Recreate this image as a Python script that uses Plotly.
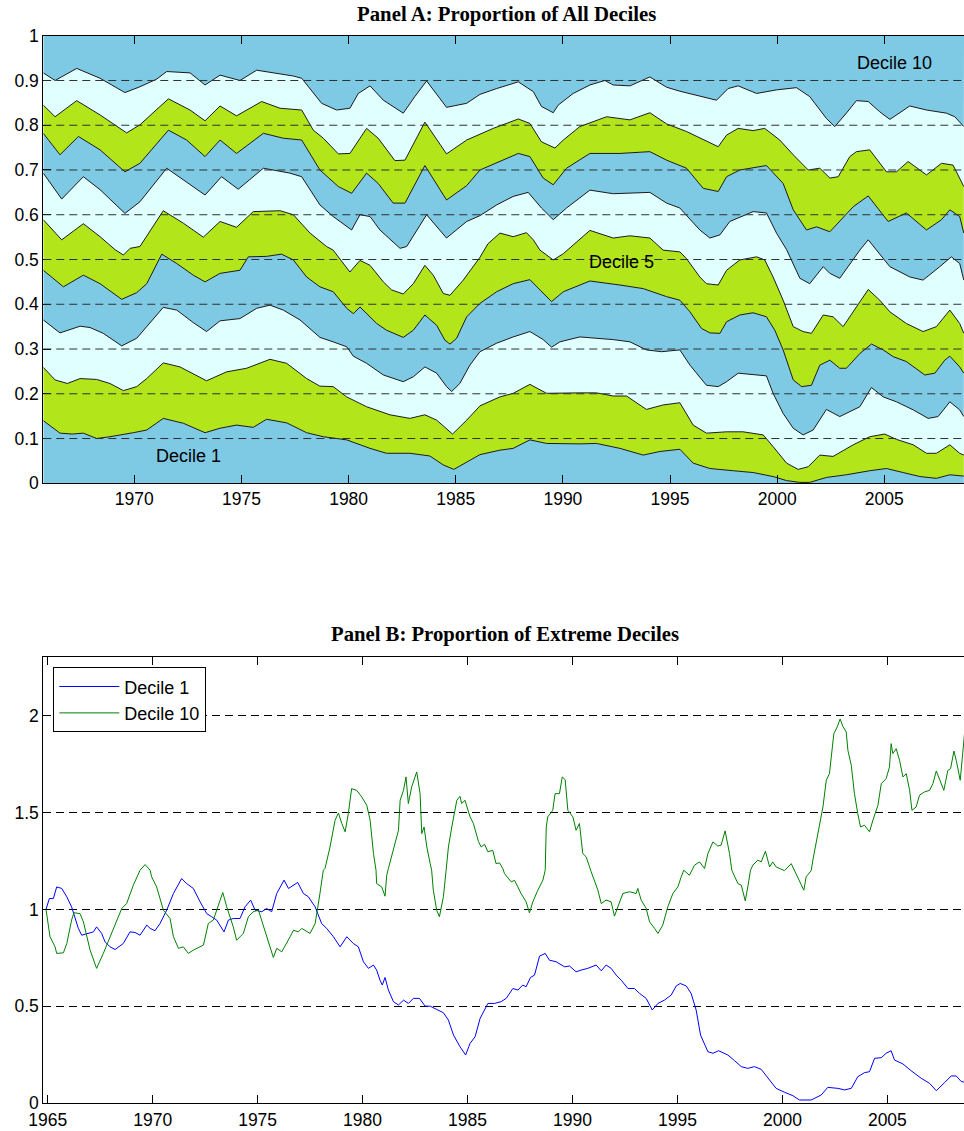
import plotly.graph_objects as go

# ---------------------------------------------------------------------------
# Panel A: cumulative share of the ten deciles (upper edge of deciles 1..9)
# ---------------------------------------------------------------------------
b1_yr = [1965.75, 1966.53, 1967.10, 1967.62, 1968.24, 1968.86, 1969.95, 1970.58, 1971.35, 1972.29,
         1973.30, 1974.00, 1974.77, 1975.55, 1976.17, 1977.11, 1978.04, 1978.82, 1979.91, 1980.37,
         1981.00, 1981.77, 1982.86, 1983.79, 1984.42, 1984.91, 1985.51, 1986.13, 1987.06, 1987.68,
         1988.46, 1989.24, 1990.79, 1991.57, 1992.66, 1993.75, 1994.53, 1995.46, 1996.08, 1996.86,
         1997.95, 1998.88, 1999.81, 2000.44, 2001.06, 2001.52, 2002.30, 2003.23, 2004.32, 2005.10,
         2005.88, 2006.66, 2007.43, 2008.06, 2008.71]
b1 = [0.140, 0.112, 0.110, 0.112, 0.100, 0.104, 0.113, 0.119, 0.145, 0.134,
      0.113, 0.123, 0.130, 0.125, 0.143, 0.135, 0.113, 0.104, 0.097, 0.089,
      0.078, 0.067, 0.067, 0.061, 0.041, 0.031, 0.048, 0.064, 0.074, 0.078,
      0.097, 0.089, 0.088, 0.089, 0.078, 0.063, 0.071, 0.076, 0.045, 0.033,
      0.028, 0.024, 0.015, 0.006, 0.002, 0.002, 0.013, 0.019, 0.028, 0.033,
      0.024, 0.015, 0.011, 0.019, 0.016]

b2_yr = [1965.75, 1966.30, 1966.87, 1967.47, 1968.24, 1968.86, 1969.49, 1970.11, 1970.58, 1971.35,
         1972.13, 1973.37, 1974.31, 1975.24, 1976.33, 1977.11, 1978.04, 1978.66, 1979.28, 1979.91,
         1980.84, 1981.93, 1982.86, 1983.56, 1984.11, 1984.85, 1985.51, 1986.13, 1987.06, 1987.68,
         1988.46, 1989.24, 1990.79, 1991.57, 1992.35, 1992.97, 1993.90, 1994.68, 1995.46, 1996.08,
         1996.70, 1997.64, 1998.41, 1999.35, 1999.81, 2000.44, 2000.98, 2001.45, 2001.99, 2002.61,
         2003.55, 2004.32, 2005.02, 2005.57, 2006.35, 2006.97, 2007.43, 2008.06, 2008.52, 2008.71]
b2 = [0.259, 0.231, 0.223, 0.234, 0.232, 0.223, 0.207, 0.216, 0.234, 0.269,
      0.260, 0.229, 0.249, 0.257, 0.277, 0.268, 0.234, 0.217, 0.216, 0.193,
      0.171, 0.153, 0.145, 0.153, 0.141, 0.110, 0.141, 0.173, 0.193, 0.201,
      0.221, 0.201, 0.202, 0.202, 0.195, 0.195, 0.165, 0.175, 0.180, 0.130,
      0.112, 0.115, 0.115, 0.108, 0.082, 0.045, 0.031, 0.037, 0.063, 0.060,
      0.086, 0.104, 0.110, 0.098, 0.086, 0.067, 0.067, 0.086, 0.067, 0.063]

b3_yr = [1965.75, 1966.53, 1967.47, 1967.93, 1968.55, 1969.41, 1970.11, 1970.58, 1971.35, 1971.98,
         1972.75, 1973.37, 1974.00, 1974.93, 1975.71, 1976.33, 1976.95, 1977.73, 1978.66, 1979.28,
         1979.91, 1980.22, 1980.84, 1981.62, 1982.55, 1983.02, 1983.56, 1984.11, 1984.57, 1984.81,
         1985.19, 1985.66, 1986.13, 1986.91, 1987.68, 1988.46, 1989.08, 1989.47, 1989.86, 1990.79,
         1992.35, 1993.13, 1993.90, 1994.60, 1995.46, 1995.93, 1996.39, 1996.70, 1997.25, 1997.64,
         1998.18, 1999.50, 1999.81, 2000.28, 2000.75, 2001.21, 2001.68, 2002.30, 2002.92, 2003.86,
         2004.40, 2004.95, 2005.57, 2006.35, 2007.05, 2007.51, 2008.06, 2008.52, 2008.71]
b3 = [0.365, 0.336, 0.351, 0.348, 0.335, 0.307, 0.324, 0.350, 0.393, 0.387,
      0.359, 0.339, 0.363, 0.368, 0.391, 0.398, 0.387, 0.365, 0.326, 0.316,
      0.305, 0.284, 0.268, 0.242, 0.227, 0.238, 0.260, 0.246, 0.216, 0.205,
      0.223, 0.264, 0.294, 0.313, 0.327, 0.339, 0.321, 0.304, 0.316, 0.327,
      0.321, 0.316, 0.298, 0.294, 0.298, 0.264, 0.238, 0.219, 0.216, 0.227,
      0.246, 0.240, 0.201, 0.156, 0.123, 0.108, 0.119, 0.165, 0.149, 0.171,
      0.214, 0.193, 0.182, 0.164, 0.145, 0.149, 0.182, 0.164, 0.149]

b4_yr = [1965.75, 1966.69, 1967.62, 1968.40, 1969.41, 1970.11, 1970.58, 1971.28, 1971.98, 1972.75,
         1973.30, 1974.00, 1974.93, 1975.32, 1976.17, 1976.87, 1977.42, 1978.04, 1978.66, 1979.28,
         1979.91, 1980.22, 1980.53, 1980.84, 1981.31, 1981.77, 1982.55, 1983.02, 1983.56, 1984.11,
         1984.49, 1984.73, 1985.04, 1985.51, 1986.13, 1986.91, 1987.68, 1988.46, 1988.93, 1989.47,
         1990.02, 1991.26, 1992.66, 1993.75, 1994.84, 1995.46, 1995.93, 1996.47, 1996.86, 1997.33,
         1997.64, 1998.26, 1998.88, 1999.50, 1999.89, 2000.28, 2000.75, 2001.14, 2001.60, 2001.99,
         2002.46, 2002.92, 2003.23, 2003.86, 2004.40, 2004.95, 2005.41, 2006.03, 2006.89, 2007.36,
         2007.82, 2008.06, 2008.52, 2008.71]
b4 = [0.476, 0.439, 0.465, 0.446, 0.411, 0.426, 0.446, 0.512, 0.491, 0.465,
      0.450, 0.469, 0.476, 0.506, 0.507, 0.512, 0.499, 0.461, 0.439, 0.428,
      0.391, 0.379, 0.394, 0.379, 0.357, 0.342, 0.326, 0.342, 0.376, 0.353,
      0.320, 0.311, 0.324, 0.372, 0.402, 0.428, 0.446, 0.455, 0.432, 0.406,
      0.428, 0.452, 0.443, 0.435, 0.417, 0.409, 0.383, 0.346, 0.336, 0.335,
      0.361, 0.376, 0.381, 0.372, 0.342, 0.298, 0.231, 0.216, 0.219, 0.264,
      0.275, 0.257, 0.257, 0.290, 0.311, 0.298, 0.283, 0.272, 0.242, 0.246,
      0.275, 0.284, 0.260, 0.246]

b5_yr = [1965.75, 1966.61, 1967.62, 1968.40, 1969.10, 1969.49, 1969.80, 1970.26, 1971.35, 1972.29,
         1973.22, 1974.00, 1974.77, 1975.55, 1976.80, 1977.42, 1978.20, 1978.97, 1979.28, 1980.06,
         1980.53, 1981.00, 1981.62, 1982.01, 1982.55, 1983.02, 1983.56, 1983.95, 1984.42, 1984.73,
         1985.35, 1985.82, 1986.13, 1986.50, 1987.06, 1987.68, 1988.30, 1988.62, 1988.93, 1989.55,
         1990.02, 1991.26, 1992.35, 1993.13, 1994.06, 1994.68, 1995.46, 1995.77, 1996.39, 1996.70,
         1997.25, 1997.64, 1998.26, 1999.04, 1999.42, 1999.81, 2000.28, 2000.75, 2001.21, 2001.60,
         2002.15, 2002.61, 2003.08, 2003.70, 2004.25, 2004.79, 2005.26, 2006.03, 2006.81, 2007.43,
         2008.06, 2008.52, 2008.71]
b5 = [0.589, 0.544, 0.580, 0.551, 0.522, 0.510, 0.525, 0.529, 0.609, 0.581,
      0.550, 0.585, 0.572, 0.607, 0.609, 0.600, 0.559, 0.529, 0.521, 0.472,
      0.498, 0.487, 0.450, 0.432, 0.423, 0.446, 0.487, 0.465, 0.424, 0.420,
      0.454, 0.484, 0.505, 0.535, 0.559, 0.551, 0.560, 0.544, 0.521, 0.499,
      0.513, 0.565, 0.548, 0.553, 0.548, 0.521, 0.517, 0.502, 0.461, 0.446,
      0.443, 0.476, 0.499, 0.506, 0.499, 0.461, 0.409, 0.350, 0.339, 0.335,
      0.376, 0.372, 0.350, 0.394, 0.433, 0.409, 0.383, 0.357, 0.339, 0.350,
      0.387, 0.357, 0.335]

b6_yr = [1965.75, 1966.61, 1967.62, 1968.40, 1969.56, 1970.26, 1971.51, 1972.29, 1973.30, 1974.07,
         1974.85, 1976.02, 1977.26, 1977.81, 1978.66, 1979.28, 1980.14, 1980.53, 1981.00, 1981.46,
         1982.40, 1982.71, 1983.64, 1984.57, 1985.51, 1986.13, 1986.91, 1987.68, 1988.38, 1989.00,
         1989.55, 1990.17, 1991.26, 1992.35, 1994.06, 1994.84, 1995.46, 1996.39, 1996.86, 1997.33,
         1997.79, 1998.88, 1999.50, 1999.97, 2000.44, 2001.06, 2001.52, 2002.15, 2002.46, 2002.92,
         2003.39, 2003.86, 2004.25, 2004.63, 2005.26, 2006.19, 2006.81, 2007.59, 2008.13, 2008.52,
         2008.71]
b6 = [0.693, 0.635, 0.685, 0.656, 0.603, 0.629, 0.704, 0.678, 0.644, 0.685,
      0.657, 0.704, 0.693, 0.685, 0.622, 0.596, 0.566, 0.600, 0.596, 0.566,
      0.525, 0.529, 0.600, 0.548, 0.585, 0.598, 0.622, 0.641, 0.650, 0.615,
      0.589, 0.615, 0.655, 0.647, 0.650, 0.626, 0.615, 0.566, 0.548, 0.555,
      0.585, 0.607, 0.604, 0.559, 0.522, 0.458, 0.446, 0.484, 0.469, 0.458,
      0.491, 0.521, 0.544, 0.521, 0.484, 0.461, 0.454, 0.484, 0.506, 0.491,
      0.454]

b7_yr = [1965.75, 1966.53, 1967.39, 1968.40, 1969.56, 1970.26, 1971.59, 1972.44, 1973.30, 1974.00,
         1974.77, 1976.02, 1976.95, 1977.81, 1978.66, 1979.52, 1980.14, 1980.84, 1981.38, 1982.08,
         1982.63, 1983.56, 1984.57, 1985.51, 1986.13, 1987.06, 1987.92, 1988.46, 1989.08, 1989.55,
         1990.17, 1991.26, 1992.66, 1994.06, 1994.84, 1995.77, 1996.55, 1997.25, 1997.64, 1998.26,
         1999.50, 2000.28, 2000.75, 2001.37, 2001.84, 2002.46, 2003.00, 2003.55, 2004.25, 2005.18,
         2006.03, 2006.97, 2007.67, 2008.06, 2008.52, 2008.71]
b7 = [0.782, 0.734, 0.775, 0.745, 0.696, 0.715, 0.789, 0.767, 0.730, 0.767,
      0.737, 0.782, 0.771, 0.767, 0.700, 0.663, 0.648, 0.693, 0.670, 0.626,
      0.626, 0.710, 0.633, 0.665, 0.700, 0.719, 0.737, 0.730, 0.682, 0.667,
      0.704, 0.737, 0.737, 0.741, 0.722, 0.704, 0.659, 0.652, 0.685, 0.700,
      0.710, 0.670, 0.611, 0.566, 0.573, 0.562, 0.589, 0.618, 0.642, 0.585,
      0.604, 0.566, 0.589, 0.611, 0.596, 0.559]

b8_yr = [1965.75, 1966.30, 1967.31, 1968.40, 1969.64, 1970.26, 1971.59, 1972.60, 1973.30, 1974.00,
         1974.77, 1975.94, 1976.80, 1977.81, 1978.35, 1978.82, 1979.52, 1980.06, 1980.84, 1981.38,
         1982.16, 1982.63, 1983.56, 1984.57, 1985.51, 1986.13, 1986.75, 1987.92, 1988.46, 1989.00,
         1989.63, 1990.02, 1990.79, 1992.04, 1993.13, 1994.06, 1994.84, 1995.77, 1996.39, 1997.25,
         1997.64, 1998.18, 1998.88, 1999.42, 2000.12, 2000.75, 2001.45, 2001.99, 2002.46, 2002.85,
         2003.39, 2003.70, 2004.32, 2005.10, 2005.57, 2006.11, 2006.97, 2007.67, 2008.21, 2008.71]
b8 = [0.845, 0.819, 0.855, 0.823, 0.783, 0.801, 0.859, 0.834, 0.810, 0.843,
      0.821, 0.853, 0.838, 0.834, 0.789, 0.771, 0.736, 0.737, 0.793, 0.771,
      0.721, 0.722, 0.807, 0.736, 0.767, 0.780, 0.793, 0.814, 0.804, 0.763,
      0.749, 0.767, 0.797, 0.819, 0.812, 0.828, 0.803, 0.786, 0.771, 0.752,
      0.778, 0.793, 0.788, 0.793, 0.767, 0.734, 0.700, 0.704, 0.682, 0.685,
      0.730, 0.741, 0.745, 0.696, 0.696, 0.719, 0.689, 0.715, 0.711, 0.663]

b9_yr = [1965.75, 1966.30, 1967.31, 1968.40, 1969.56, 1970.26, 1971.04, 1971.51, 1972.60, 1973.30,
         1974.00, 1974.93, 1975.71, 1976.64, 1977.42, 1977.81, 1978.74, 1979.44, 1980.06, 1980.45,
         1981.00, 1981.62, 1982.55, 1983.09, 1983.64, 1984.57, 1985.51, 1986.13, 1986.91, 1987.92,
         1988.62, 1989.00, 1989.55, 1989.78, 1990.48, 1991.26, 1991.96, 1992.35, 1993.13, 1994.06,
         1994.84, 1995.46, 1996.55, 1997.17, 1997.71, 1998.18, 1999.04, 1999.97, 2000.90, 2001.52,
         2002.30, 2002.69, 2003.23, 2003.70, 2004.25, 2004.79, 2005.26, 2006.19, 2006.97, 2007.90,
         2008.29, 2008.71]
b9 = [0.917, 0.900, 0.927, 0.905, 0.873, 0.886, 0.903, 0.920, 0.917, 0.890,
      0.912, 0.900, 0.923, 0.916, 0.910, 0.905, 0.849, 0.834, 0.838, 0.871,
      0.888, 0.856, 0.827, 0.864, 0.899, 0.840, 0.849, 0.869, 0.882, 0.897,
      0.875, 0.842, 0.828, 0.845, 0.871, 0.890, 0.900, 0.890, 0.888, 0.908,
      0.885, 0.876, 0.864, 0.856, 0.882, 0.888, 0.871, 0.879, 0.884, 0.864,
      0.815, 0.797, 0.827, 0.855, 0.853, 0.830, 0.813, 0.843, 0.834, 0.827,
      0.819, 0.797]

# the ten deciles together always sum to one
top_yr = [1965.75, 2008.72]
top_share = [1.0, 1.0]

# ---------------------------------------------------------------------------
# Panel B: proportion of the extreme deciles (relative to the start value)
# ---------------------------------------------------------------------------
d1_yr = [1964.92, 1965.08, 1965.27, 1965.43, 1965.67, 1965.91, 1966.14, 1966.30, 1966.46, 1966.62,
         1966.78, 1966.94, 1967.18, 1967.33, 1967.57, 1967.73, 1967.97, 1968.21, 1968.60, 1968.92,
         1969.16, 1969.40, 1969.72, 1969.88, 1970.11, 1970.35, 1970.67, 1970.99, 1971.38, 1971.62,
         1971.94, 1972.26, 1972.58, 1972.81, 1973.05, 1973.40, 1973.61, 1973.84, 1974.16, 1974.40,
         1974.67, 1974.88, 1975.20, 1975.43, 1975.67, 1975.91, 1976.26, 1976.47, 1976.71, 1976.91,
         1977.18, 1977.42, 1977.74, 1978.05, 1978.29, 1978.61, 1978.93, 1979.25, 1979.56, 1979.80,
         1980.04, 1980.28, 1980.52, 1980.67, 1980.83, 1980.94, 1981.07, 1981.23, 1981.47, 1981.71,
         1981.95, 1982.18, 1982.42, 1982.71, 1982.98, 1983.22, 1983.53, 1983.85, 1984.09, 1984.33,
         1984.64, 1984.91, 1985.12, 1985.36, 1985.60, 1985.97, 1986.28, 1986.60, 1986.84, 1987.16,
         1987.40, 1987.63, 1987.79, 1988.00, 1988.19, 1988.43, 1988.70, 1988.90, 1989.22, 1989.62,
         1989.86, 1990.17, 1990.41, 1990.73, 1991.13, 1991.37, 1991.60, 1991.84, 1992.08, 1992.32,
         1992.64, 1992.95, 1993.19, 1993.51, 1993.80, 1994.07, 1994.38, 1994.70, 1994.94, 1995.13,
         1995.42, 1995.65, 1995.89, 1996.10, 1996.45, 1996.69, 1996.96, 1997.40, 1997.72, 1998.04,
         1998.35, 1998.67, 1998.99, 1999.31, 1999.70, 2000.10, 2000.50, 2000.81, 2001.37, 2001.85,
         2002.16, 2002.64, 2002.96, 2003.28, 2003.59, 2003.91, 2004.15, 2004.39, 2004.71, 2004.94,
         2005.18, 2005.34, 2005.74, 2006.13, 2006.61, 2007.01, 2007.33, 2007.72, 2008.04, 2008.28,
         2008.52, 2008.71]
d1 = [1.000, 1.056, 1.056, 1.116, 1.108, 1.065, 1.013, 0.962, 0.902, 0.867,
      0.872, 0.876, 0.884, 0.910, 0.876, 0.833, 0.807, 0.793, 0.824, 0.884,
      0.881, 0.867, 0.919, 0.902, 0.890, 0.927, 0.996, 1.082, 1.159, 1.133,
      1.108, 1.039, 0.978, 0.962, 0.945, 0.884, 0.945, 0.953, 0.953, 1.013,
      1.048, 0.996, 0.988, 1.005, 0.988, 1.082, 1.151, 1.108, 1.125, 1.139,
      1.082, 1.065, 1.013, 0.927, 0.902, 0.859, 0.807, 0.859, 0.824, 0.807,
      0.730, 0.696, 0.713, 0.687, 0.635, 0.610, 0.649, 0.584, 0.524, 0.507,
      0.532, 0.515, 0.541, 0.541, 0.501, 0.501, 0.484, 0.467, 0.429, 0.352,
      0.292, 0.249, 0.309, 0.343, 0.438, 0.515, 0.515, 0.524, 0.541, 0.592,
      0.584, 0.610, 0.601, 0.649, 0.661, 0.759, 0.773, 0.738, 0.730, 0.704,
      0.708, 0.678, 0.687, 0.696, 0.713, 0.683, 0.713, 0.696, 0.661, 0.635,
      0.592, 0.592, 0.567, 0.541, 0.481, 0.515, 0.532, 0.558, 0.605, 0.618,
      0.605, 0.567, 0.481, 0.352, 0.266, 0.258, 0.271, 0.249, 0.220, 0.189,
      0.180, 0.189, 0.175, 0.129, 0.077, 0.057, 0.039, 0.017, 0.017, 0.043,
      0.082, 0.077, 0.069, 0.077, 0.137, 0.158, 0.163, 0.232, 0.235, 0.258,
      0.271, 0.223, 0.203, 0.168, 0.129, 0.103, 0.065, 0.106, 0.141, 0.141,
      0.112, 0.108]

d10_yr = [1964.92, 1965.11, 1965.35, 1965.43, 1965.75, 1965.91, 1966.14, 1966.25, 1966.54, 1966.70,
          1967.02, 1967.33, 1967.65, 1967.97, 1968.53, 1968.76, 1969.08, 1969.40, 1969.64, 1969.88,
          1969.95, 1970.19, 1970.51, 1970.83, 1970.99, 1971.23, 1971.46, 1971.70, 1971.94, 1972.42,
          1972.65, 1972.89, 1973.34, 1973.53, 1973.84, 1974.00, 1974.32, 1974.56, 1974.79, 1975.04,
          1975.35, 1975.59, 1975.75, 1975.91, 1976.15, 1976.55, 1976.71, 1976.94, 1977.10, 1977.50,
          1977.74, 1977.97, 1978.13, 1978.21, 1978.45, 1978.69, 1978.85, 1979.01, 1979.17, 1979.32,
          1979.48, 1979.72, 1979.96, 1980.20, 1980.36, 1980.52, 1980.64, 1980.67, 1980.91, 1981.07,
          1981.15, 1981.23, 1981.47, 1981.71, 1981.79, 1981.95, 1982.07, 1982.18, 1982.34, 1982.58,
          1982.74, 1982.82, 1982.93, 1983.06, 1983.22, 1983.29, 1983.37, 1983.53, 1983.66, 1983.85,
          1983.98, 1984.09, 1984.25, 1984.49, 1984.64, 1984.72, 1984.88, 1985.12, 1985.28, 1985.52,
          1985.65, 1985.81, 1985.97, 1986.20, 1986.36, 1986.52, 1986.68, 1986.76, 1987.08, 1987.24,
          1987.55, 1987.79, 1987.95, 1988.11, 1988.35, 1988.59, 1988.70, 1988.75, 1988.82, 1989.06,
          1989.17, 1989.38, 1989.51, 1989.65, 1989.78, 1990.02, 1990.17, 1990.33, 1990.49, 1990.65,
          1990.89, 1991.21, 1991.37, 1991.60, 1991.84, 1992.00, 1992.16, 1992.40, 1992.72, 1993.03,
          1993.11, 1993.27, 1993.51, 1993.67, 1993.91, 1994.07, 1994.30, 1994.54, 1994.78, 1995.02,
          1995.18, 1995.30, 1995.57, 1995.81, 1996.05, 1996.29, 1996.45, 1996.69, 1996.92, 1997.08,
          1997.27, 1997.48, 1997.59, 1997.88, 1998.04, 1998.23, 1998.35, 1998.48, 1998.59, 1998.83,
          1998.99, 1999.19, 1999.39, 1999.54, 1999.70, 2000.10, 2000.42, 2000.74, 2001.02, 2001.13,
          2001.37, 2001.45, 2001.69, 2001.93, 2002.09, 2002.24, 2002.45, 2002.61, 2002.75, 2002.88,
          2003.04, 2003.12, 2003.28, 2003.43, 2003.59, 2003.72, 2003.91, 2004.15, 2004.31, 2004.55,
          2004.71, 2004.94, 2005.10, 2005.18, 2005.26, 2005.42, 2005.58, 2005.74, 2005.90, 2006.06,
          2006.17, 2006.37, 2006.53, 2006.77, 2007.01, 2007.17, 2007.33, 2007.49, 2007.69, 2007.88,
          2008.01, 2008.17, 2008.28, 2008.47, 2008.60, 2008.71]
d10 = [1.000, 0.859, 0.807, 0.773, 0.776, 0.824, 0.945, 0.983, 0.978, 0.936,
       0.790, 0.696, 0.773, 0.859, 1.005, 1.030, 1.125, 1.202, 1.231, 1.202,
       1.168, 1.116, 0.996, 0.953, 0.859, 0.799, 0.807, 0.773, 0.790, 0.816,
       0.927, 0.945, 1.087, 1.013, 0.910, 0.841, 0.876, 0.962, 0.988, 0.996,
       0.893, 0.807, 0.752, 0.799, 0.781, 0.859, 0.893, 0.884, 0.902, 0.876,
       0.927, 1.082, 1.202, 1.211, 1.322, 1.460, 1.497, 1.443, 1.400, 1.494,
       1.623, 1.614, 1.580, 1.537, 1.460, 1.288, 1.202, 1.133, 1.116, 1.068,
       1.176, 1.211, 1.305, 1.408, 1.563, 1.614, 1.683, 1.546, 1.632, 1.709,
       1.597, 1.391, 1.425, 1.322, 1.236, 1.202, 1.099, 0.996, 0.962, 1.065,
       1.202, 1.322, 1.425, 1.563, 1.583, 1.546, 1.563, 1.477, 1.443, 1.350,
       1.322, 1.336, 1.297, 1.305, 1.236, 1.240, 1.211, 1.185, 1.142, 1.150,
       1.082, 1.039, 0.982, 1.039, 1.099, 1.151, 1.202, 1.425, 1.477, 1.511,
       1.597, 1.597, 1.683, 1.669, 1.511, 1.477, 1.408, 1.443, 1.288, 1.271,
       1.194, 1.099, 1.030, 1.048, 1.039, 0.965, 1.013, 1.082, 1.091, 1.082,
       1.108, 1.048, 1.005, 0.936, 0.902, 0.876, 0.919, 1.013, 1.082, 1.116,
       1.168, 1.202, 1.176, 1.228, 1.245, 1.211, 1.288, 1.348, 1.327, 1.331,
       1.405, 1.288, 1.202, 1.133, 1.125, 1.044, 1.116, 1.202, 1.228, 1.254,
       1.245, 1.300, 1.219, 1.245, 1.219, 1.200, 1.236, 1.159, 1.099, 1.168,
       1.200, 1.254, 1.391, 1.528, 1.666, 1.700, 1.906, 1.941, 1.982, 1.944,
       1.915, 1.820, 1.743, 1.597, 1.494, 1.425, 1.434, 1.400, 1.460, 1.537,
       1.649, 1.674, 1.734, 1.855, 1.803, 1.829, 1.769, 1.683, 1.700, 1.614,
       1.511, 1.528, 1.589, 1.606, 1.614, 1.649, 1.714, 1.666, 1.614, 1.717,
       1.726, 1.817, 1.769, 1.666, 1.820, 1.949]

year_ticks_a = [1970, 1975, 1980, 1985, 1990, 1995, 2000, 2005]
year_ticks_b = [1965, 1970, 1975, 1980, 1985, 1990, 1995, 2000, 2005]
share_ticks = [0, 0.1, 0.2, 0.3, 0.4, 0.5, 0.6, 0.7, 0.8, 0.9, 1]
ratio_ticks = [0, 0.5, 1, 1.5, 2]

# ---------------------------------------------------------------------------
BLUE = "rgb(126,201,228)"
GREEN = "rgb(178,229,26)"
PALE = "rgb(224,255,255)"
EDGE = "#1a1a1a"
SANS = "Liberation Sans, Arial, sans-serif"
SERIF = "Liberation Serif, Times New Roman, serif"

fig = go.Figure()

# stacked decile bands: each band fills down to the previous boundary
bands = [
    (b1_yr, b1, BLUE, "tozeroy"),
    (b2_yr, b2, GREEN, "tonexty"),
    (b3_yr, b3, PALE, "tonexty"),
    (b4_yr, b4, BLUE, "tonexty"),
    (b5_yr, b5, GREEN, "tonexty"),
    (b6_yr, b6, PALE, "tonexty"),
    (b7_yr, b7, BLUE, "tonexty"),
    (b8_yr, b8, GREEN, "tonexty"),
    (b9_yr, b9, PALE, "tonexty"),
]
for xs, ys, col, mode in bands:
    fig.add_trace(go.Scatter(
        x=xs, y=ys, mode="lines", fill=mode, fillcolor=col,
        line=dict(color=EDGE, width=1), showlegend=False, hoverinfo="skip",
        xaxis="x", yaxis="y"))
fig.add_trace(go.Scatter(
    x=top_yr, y=top_share, mode="lines", fill="tonexty", fillcolor=BLUE,
    line=dict(width=0), showlegend=False, hoverinfo="skip", xaxis="x", yaxis="y"))

# extreme deciles
fig.add_trace(go.Scatter(x=d1_yr, y=d1, mode="lines", name="Decile 1",
                         line=dict(color="#0000ff", width=1), xaxis="x2", yaxis="y2"))
fig.add_trace(go.Scatter(x=d10_yr, y=d10, mode="lines", name="Decile 10",
                         line=dict(color="#008000", width=1), xaxis="x2", yaxis="y2"))

# dashed reference lines over the bands
shapes = []
for v in share_ticks[1:-1]:
    shapes.append(dict(type="line", xref="x domain", x0=0, x1=1, yref="y", y0=v, y1=v,
                       line=dict(color="#303030", width=1, dash="8px,5px"), layer="above"))

axis_common = dict(showline=True, linecolor="black", linewidth=1, ticks="inside",
                   ticklen=8, tickcolor="black", showgrid=False, zeroline=False,
                   automargin=False,
                   tickfont=dict(family=SANS, size=17.5, color="black"))

fig.update_layout(
    width=964, height=1131,
    margin=dict(l=0, r=0, t=0, b=0, autoexpand=False),
    paper_bgcolor="white", plot_bgcolor="white",
    showlegend=True,
    xaxis=dict(domain=[0.0449, 1.0], range=[1965.75, 2008.72], tickvals=year_ticks_a,
               mirror="ticks", anchor="y", layer="above traces", **axis_common),
    yaxis=dict(domain=[0.5727, 0.9684], range=[0, 1], tickvals=share_ticks,
               anchor="x", layer="above traces", **axis_common),
    xaxis2=dict(domain=[0.0449, 1.0], range=[1964.79, 2008.65], tickvals=year_ticks_b,
                mirror="ticks", anchor="y2", ticklabelstandoff=1, **axis_common),
    yaxis2=dict(domain=[0.0245, 0.4188], range=[0, 2.3], tickvals=ratio_ticks,
                ticktext=["0", "0.5", "1", "1.5", "2"], anchor="x2",
                **{**axis_common, "showgrid": True},
                gridcolor="black", gridwidth=1, griddash="8px,5px"),
    shapes=shapes,
    legend=dict(x=0.0553, y=0.4100, xanchor="left", yanchor="top", traceorder="normal",
                bgcolor="white", bordercolor="black", borderwidth=1,
                font=dict(family=SANS, size=18, color="black"), itemwidth=60),
    annotations=[
        dict(text="<b>Panel A: Proportion of All Deciles</b>", xref="paper", yref="paper",
             x=0.525, y=0.9876, xanchor="center", yanchor="middle", showarrow=False,
             font=dict(family=SERIF, size=20.8, color="black")),
        dict(text="<b>Panel B: Proportion of Extreme Deciles</b>", xref="paper", yref="paper",
             x=0.5242, y=0.4390, xanchor="center", yanchor="middle", showarrow=False,
             font=dict(family=SERIF, size=20.7, color="black")),
        dict(text="Decile 10", xref="x", yref="y", x=2003.63, y=0.939, xanchor="left",
             yanchor="middle", showarrow=False, font=dict(family=SANS, size=18, color="black")),
        dict(text="Decile 5", xref="x", yref="y", x=1991.11, y=0.495, xanchor="left",
             yanchor="middle", showarrow=False, font=dict(family=SANS, size=18, color="black")),
        dict(text="Decile 1", xref="x", yref="y", x=1970.92, y=0.060, xanchor="left",
             yanchor="middle", showarrow=False, font=dict(family=SANS, size=18, color="black")),
    ],
)

fig.write_html("out.html")
